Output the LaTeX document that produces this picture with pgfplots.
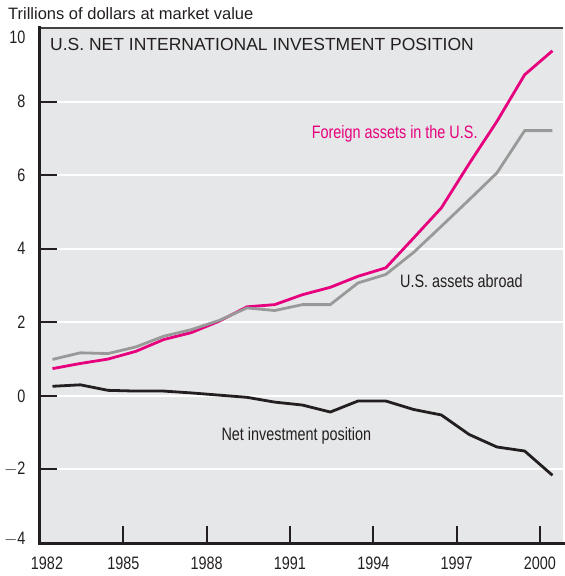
\documentclass[border=0pt]{standalone}
\usepackage{fontspec}
\setmainfont{Liberation Sans}
\newfontfamily\condfont{Liberation Sans}[FakeStretch=0.8]
\usepackage{pgfplots}
\pgfplotsset{compat=1.18}
\usetikzlibrary{calc}
\definecolor{bgc}{HTML}{E6E7E8}
\definecolor{mag}{HTML}{E6007E}
\definecolor{grayline}{HTML}{999999}
\definecolor{axc}{HTML}{231F20}
\begin{document}
\begin{tikzpicture}
\begin{axis}[
  name=ax,
  scale only axis,
  width=523pt, height=515pt,
  xmin=1982, xmax=2000.83,
  ymin=-4, ymax=10,
  axis background/.style={fill=bgc},
  axis line style={draw=none},
  xtick={1982,1985,1988,1991,1994,1997,2000},
  xticklabels={\hspace*{14pt}1982,1985,1988,1991,1994,1997,2000},
  ytick={-4,-2,0,2,4,6,8,10},
  yticklabels={\raisebox{5pt}[\height][0pt]{$-$4},$-$2,0,2,4,6,8,\raisebox{-9pt}[\height][0pt]{10}},
  /pgf/number format/assume math mode=true,
  every tick/.style={draw=axc, line width=2pt},
  tickwidth=17pt,
  tick align=inside,
  xtick pos=bottom, ytick pos=left,
  ymajorgrids,
  major grid style={white, line width=2pt},
  tick label style={font=\condfont\fontsize{18}{18}\selectfont, text=axc},
  yticklabel style={xshift=-11pt},
  xticklabel style={yshift=-10pt},
  clip=false,
]
\addplot[mag, line width=2.8pt] coordinates {
(1982.45,0.74) (1983.45,0.88) (1984.45,1.00) (1985.45,1.21) (1986.45,1.53)
(1987.45,1.72) (1988.45,2.03) (1989.45,2.42) (1990.45,2.48) (1991.45,2.75)
(1992.45,2.95) (1993.45,3.25) (1994.45,3.48) (1995.45,4.29) (1996.45,5.11)
(1997.45,6.31) (1998.45,7.46) (1999.45,8.73) (2000.45,9.38)};
\addplot[grayline, line width=2.8pt] coordinates {
(1982.45,0.99) (1983.45,1.17) (1984.45,1.15) (1985.45,1.33) (1986.45,1.62)
(1987.45,1.80) (1988.45,2.05) (1989.45,2.39) (1990.45,2.32) (1991.45,2.48)
(1992.45,2.48) (1993.45,3.07) (1994.45,3.30) (1995.45,3.90) (1996.45,4.61)
(1997.45,5.33) (1998.45,6.06) (1999.45,7.21) (2000.45,7.21)};
\addplot[axc, line width=2.8pt] coordinates {
(1982.45,0.26) (1983.45,0.30) (1984.45,0.15) (1985.45,0.13) (1986.45,0.13)
(1987.45,0.08) (1988.45,0.02) (1989.45,-0.04) (1990.45,-0.17) (1991.45,-0.25)
(1992.45,-0.44) (1993.45,-0.14) (1994.45,-0.14) (1995.45,-0.37) (1996.45,-0.52)
(1997.45,-1.05) (1998.45,-1.39) (1999.45,-1.50) (2000.45,-2.16)};
\pgfplotsinvokeforeach{1985,1988,1991,1994,1997,2000}{
  \draw[axc, line width=2pt] (axis cs:#1,-4) -- ++(0pt,17pt);
}
\pgfplotsinvokeforeach{-2,0,2,4,6,8}{
  \draw[axc, line width=2pt] (axis cs:1982,#1) -- ++(17pt,0pt);
}
\draw[axc!85, line width=2.2pt] (rel axis cs:0,1) -- (rel axis cs:1,1);
\draw[axc, line width=3pt, line cap=rect] (rel axis cs:0,1) -- (rel axis cs:0,0) -- (rel axis cs:1,0);
\node[anchor=west, font=\fontsize{17.5}{17.5}\selectfont, text=axc, inner sep=0pt] at (axis cs:1982.36,9.55) {U.S. NET INTERNATIONAL INVESTMENT POSITION};
\node[font=\condfont\fontsize{18}{18}\selectfont, text=mag, inner sep=0pt] at (axis cs:1994.77,7.12) {Foreign assets in the U.S.};
\node[font=\condfont\fontsize{18}{18}\selectfont, text=axc, inner sep=0pt] at (axis cs:1997.17,3.13) {U.S. assets abroad};
\node[font=\condfont\fontsize{18}{18}\selectfont, text=axc, inner sep=0pt] at (axis cs:1991.23,-1.08) {Net investment position};
\coordinate (sw) at (rel axis cs:0,0);
\coordinate (ne) at (rel axis cs:1,1);
\coordinate (tl) at (rel axis cs:0,1);
\end{axis}
\node[anchor=west, font=\fontsize{16.5}{16.5}\selectfont, text=axc, inner sep=0pt] at ($(tl)+(-32pt,14pt)$) {Trillions of dollars at market value};
\path[use as bounding box] ($(sw)+(-40pt,-33pt)$) rectangle ($(ne)+(0pt,28pt)$);
\end{tikzpicture}
\end{document}
